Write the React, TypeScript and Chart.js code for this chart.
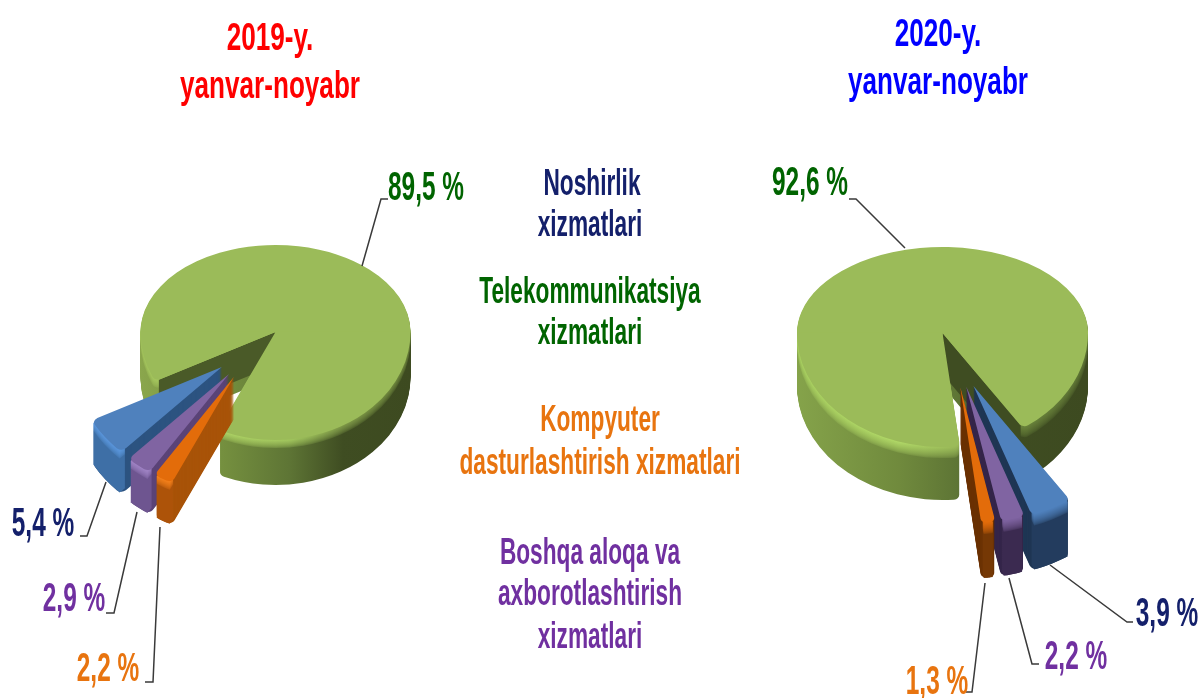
import React, { useEffect, useRef } from "react";
import { Chart, registerables } from "chart.js";

Chart.register(...registerables);

const NOSHIRLIK = "Noshirlik xizmatlari";
const TELEKOM = "Telekommunikatsiya xizmatlari";
const KOMPYUTER = "Kompyuter dasturlashtirish xizmatlari";
const BOSHQA = "Boshqa aloqa va axborotlashtirish xizmatlari";

const categories2019 = [NOSHIRLIK, TELEKOM, KOMPYUTER, BOSHQA];
const values2019 = [5.4, 89.5, 2.2, 2.9];
const categories2020 = [NOSHIRLIK, BOSHQA, KOMPYUTER, TELEKOM];
const values2020 = [3.9, 2.2, 1.3, 92.6];

const GREEN = "#9BBB59";
const BLUE = "#4F81BD";
const PURPLE = "#8064A2";
const ORANGE = "#E36C0A";
const colorOf: Record<string, string> = {
  [NOSHIRLIK]: BLUE,
  [TELEKOM]: GREEN,
  [KOMPYUTER]: ORANGE,
  [BOSHQA]: PURPLE,
};

type Stop = [number, string];
type Look = { side: Stop[]; rim: Stop[]; wall?: string; nudge?: [number, number] };
type PieCfg = {
  cats: string[];
  vals: number[];
  rotation: number;
  cx: number;
  cy: number;
  r: number;
  topR: number;
  botR: number;
  depth: number;
  bevel: number;
  explodeGap: number;
  explodeR: number;
  explodeDepth: number;
  wallEdge: "start" | "end";
  wall: string;
  looks: Record<string, Look>;
  leaders: number[][][];
};

const single = (side: string, rim: string, wall: string, nudge: [number, number]): Look => ({
  side: [[0, side], [1, side]],
  rim: [[0, rim], [1, rim]],
  wall,
  nudge,
});

const pie2019: PieCfg = {
  cats: categories2019,
  vals: values2019,
  rotation: 223.46,
  cx: 275.5,
  cy: 332,
  r: 135,
  topR: 87,
  botR: 108,
  depth: 45,
  bevel: 9,
  explodeGap: 67,
  explodeR: 146,
  explodeDepth: 42,
  wallEdge: "start",
  wall: "#4A5A28",
  looks: {
    [TELEKOM]: {
      side: [[0, "#8AA64C"], [0.3, "#75903F"], [0.55, "#5E7535"], [0.75, "#3F4D22"], [1, "#3D4A20"]],
      rim: [[0, "#A3C45C"], [0.3, "#AFD566"], [0.55, "#A6CB60"], [0.75, "#7F9A48"], [1, "#6A823A"]],
    },
    [NOSHIRLIK]: single("#3E6FA6", "#5A97DD", "#2C5380", [0, 3]),
    [BOSHQA]: single("#6E5590", "#A084C6", "#5A4377", [-5, 0]),
    [KOMPYUTER]: single("#AD5309", "#F5801A", "#A85308", [-9, -2]),
  },
  leaders: [
    [[362, 266], [381, 199], [388, 199]],
    [[106, 482], [87, 536], [80, 536]],
    [[137, 512], [114, 613], [106, 613]],
    [[160, 527], [153, 682], [145, 682]],
  ],
};

const pie2020: PieCfg = {
  cats: categories2020,
  vals: values2020,
  rotation: 146.5,
  cx: 942.5,
  cy: 333,
  r: 145.5,
  topR: 86,
  botR: 114,
  depth: 53,
  bevel: 12,
  explodeGap: 74,
  explodeR: 175,
  explodeDepth: 55,
  wallEdge: "end",
  wall: "#3F4D22",
  looks: {
    [TELEKOM]: {
      side: [[0, "#85A34A"], [0.35, "#708A3D"], [0.55, "#5E7535"], [0.68, "#3F4D22"], [1, "#3D4A20"]],
      rim: [[0, "#A9D060"], [0.35, "#B2DA68"], [0.55, "#9BBB59"], [0.68, "#6F8A3E"], [1, "#5E7535"]],
    },
    [NOSHIRLIK]: single("#233C5E", "#4F81BD", "#1F3654", [-2, 1]),
    [BOSHQA]: single("#3B2A50", "#8064A2", "#35264A", [4, -2]),
    [KOMPYUTER]: single("#753805", "#E36C0A", "#6B3204", [6, -3]),
  },
  leaders: [
    [[905, 248], [856, 199], [849, 199]],
    [[1050, 565], [1127, 622], [1133, 622]],
    [[1009, 578], [1032, 664], [1039, 664]],
    [[985, 583], [972, 692], [966, 692]],
  ],
};

const hex = (c: string) => [1, 3, 5].map((i) => parseInt(c.slice(i, i + 2), 16));
const mix = (a: string, b: string, t: number) => {
  const A = hex(a);
  const B = hex(b);
  return `rgb(${A.map((v, i) => Math.round(v + (B[i] - v) * t)).join(",")})`;
};

function drawArc(arc: any, ctx: CanvasRenderingContext2D, fill: any, outerR: number, band = false) {
  // The explode distance comes from the arc's own offset option, applied as a
  // pure translation so the slice keeps its true angular width.
  const gap = (arc.options.offset || 0) / 4;
  const mid = (arc.startAngle + arc.endAngle) / 2;
  const proxy = Object.create(arc);
  proxy.options = { ...arc.options, backgroundColor: fill, offset: 0 };
  proxy.outerRadius = outerR;
  if (band) {
    const inset = 2.5 / outerR;
    proxy.innerRadius = outerR - 8;
    proxy.startAngle = arc.startAngle + inset;
    proxy.endAngle = arc.endAngle - inset;
    proxy.circumference = arc.circumference - 2 * inset;
    proxy.options.borderRadius = 0;
  }
  ctx.save();
  ctx.translate(Math.cos(mid) * gap, Math.sin(mid) * gap);
  proxy.draw(ctx);
  ctx.restore();
}

const makePlugin = (cfg: PieCfg) => ({
  id: "extruded",
  beforeDatasetDraw(chart: any) {
    const ctx: CanvasRenderingContext2D = chart.ctx;
    const arcs = chart.getDatasetMeta(0).data;
    const W = chart.width;
    const H = chart.height;
    const { cx, cy, r, topR, botR } = cfg;
    const order = cfg.cats.map((_, i) => i).filter((i) => cfg.cats[i] === TELEKOM)
      .concat([NOSHIRLIK, BOSHQA, KOMPYUTER].map((n) => cfg.cats.indexOf(n)));

    const place = (arc: any, dy: number, s: number, nudge?: [number, number]) => {
      ctx.translate(cx + (nudge ? nudge[0] : 0), cy + dy + (nudge ? nudge[1] : 0));
      ctx.scale(1, s);
      ctx.translate(-arc.x, -arc.y);
    };

    const fillFor = (look: Look, t: number, x0: number, x1: number) => {
      const g = ctx.createLinearGradient(x0, 0, x1, 0);
      look.side.forEach((st, i) => {
        g.addColorStop(st[0], mix(st[1], look.rim[i][1], t));
      });
      return g;
    };

    order.forEach((idx) => {
      const arc = arcs[idx];
      const name = cfg.cats[idx];
      const look = cfg.looks[name];
      const isMain = name === TELEKOM;
      const depth = isMain ? cfg.depth : cfg.explodeDepth;
      const R = isMain ? r : cfg.explodeR;
      const x0 = arc.x - r;
      const x1 = arc.x + r;

      const paint = (fill: any, dy: number) => {
        if (isMain) {
          ctx.save();
          ctx.beginPath();
          ctx.rect(0, 0, W, cy + dy + 0.5);
          ctx.clip();
          place(arc, dy, topR / r);
          drawArc(arc, ctx, fill, R);
          ctx.restore();
          ctx.save();
          ctx.beginPath();
          ctx.rect(0, cy + dy - 0.5, W, H);
          ctx.clip();
          place(arc, dy, botR / r);
          drawArc(arc, ctx, fill, R);
          ctx.restore();
        } else {
          ctx.save();
          place(arc, dy, botR / r, look.nudge);
          drawArc(arc, ctx, fill, R);
          ctx.restore();
        }
      };

      const paintBand = (fill: any, dy: number) => {
        ctx.save();
        place(arc, dy, botR / r, look.nudge);
        drawArc(arc, ctx, fill, R, true);
        ctx.restore();
      };

      const layerFill = (dy: number) => {
        const t = dy >= cfg.bevel ? 0 : Math.pow(1 - dy / cfg.bevel, 0.6);
        return fillFor(look, t, x0, x1);
      };

      if (!isMain) {
        for (let dy = depth; dy >= 1; dy--) paint(look.wall, dy);
      }
      for (let dy = depth; dy >= 1; dy--) {
        if (isMain) paint(layerFill(dy), dy);
        else paintBand(layerFill(dy), dy);
      }

      if (isMain) {
        const a = cfg.wallEdge === "start" ? arc.startAngle : arc.endAngle;
        const ex = cx + Math.cos(a) * (r - 4);
        const ey = cy + Math.sin(a) * (r - 4) * (botR / r);
        ctx.save();
        ctx.fillStyle = cfg.wall;
        ctx.beginPath();
        ctx.moveTo(cx, cy);
        ctx.lineTo(ex, ey);
        ctx.lineTo(ex, ey + depth - 12);
        ctx.lineTo(cx, cy + depth - 12);
        ctx.closePath();
        ctx.fill();
        ctx.restore();
      }

      paint(colorOf[name], 0);
    });

    ctx.save();
    ctx.strokeStyle = "#3A3A3A";
    ctx.lineWidth = 1.5;
    cfg.leaders.forEach((pts) => {
      ctx.beginPath();
      pts.forEach((p, i) => (i ? ctx.lineTo(p[0], p[1]) : ctx.moveTo(p[0], p[1])));
      ctx.stroke();
    });
    ctx.restore();
    return false;
  },
});

function Pie({ cfg }: { cfg: PieCfg }) {
  const ref = useRef<HTMLCanvasElement | null>(null);
  useEffect(() => {
    const chart = new Chart(ref.current as HTMLCanvasElement, {
      type: "pie",
      data: {
        labels: cfg.cats,
        datasets: [
          {
            data: cfg.vals,
            backgroundColor: cfg.cats.map((c) => colorOf[c]),
            borderWidth: 0,
            offset: cfg.cats.map((c) => (c === TELEKOM ? 0 : cfg.explodeGap * 4)),
            borderRadius: cfg.cats.map(() => ({ outerStart: 6, outerEnd: 6, innerStart: 0, innerEnd: 0 })),
          },
        ],
      },
      options: {
        animation: false,
        responsive: false,
        events: [],
        rotation: cfg.rotation,
        radius: cfg.r,
        plugins: { legend: { display: false }, tooltip: { enabled: false }, title: { display: false } },
      } as any,
      plugins: [makePlugin(cfg) as any],
    });
    return () => chart.destroy();
  }, [cfg]);
  return (
    <canvas
      ref={ref}
      width={1202}
      height={698}
      style={{ position: "absolute", left: 0, top: 0, width: 1202, height: 698 }}
    />
  );
}

type Txt = { t: string; x: number; y: number; c: string };
const RED = "#FF0000";
const INK = "#0000FF";
const NAVY = "#14206B";
const DGREEN = "#006400";
const TORANGE = "#E8740F";
const TPURPLE = "#7030A0";

const titles: Txt[] = [
  { t: "2019-y.", x: 270, y: 36, c: RED },
  { t: "yanvar-noyabr", x: 270, y: 84, c: RED },
  { t: "2020-y.", x: 938, y: 32, c: INK },
  { t: "yanvar-noyabr", x: 938, y: 80, c: INK },
];
const legendTexts: Txt[] = [
  { t: "Noshirlik", x: 592, y: 183, c: NAVY },
  { t: "xizmatlari", x: 590, y: 224, c: NAVY },
  { t: "Telekommunikatsiya", x: 590, y: 291, c: DGREEN },
  { t: "xizmatlari", x: 590, y: 332, c: DGREEN },
  { t: "Kompyuter", x: 600, y: 419, c: TORANGE },
  { t: "dasturlashtirish xizmatlari", x: 600, y: 462, c: TORANGE },
  { t: "Boshqa aloqa va", x: 590, y: 552, c: TPURPLE },
  { t: "axborotlashtirish", x: 590, y: 593, c: TPURPLE },
  { t: "xizmatlari", x: 590, y: 636, c: TPURPLE },
];
const valueTexts: Txt[] = [
  { t: "89,5 %", x: 426, y: 186, c: DGREEN },
  { t: "5,4 %", x: 43, y: 522, c: NAVY },
  { t: "2,9 %", x: 74, y: 597, c: TPURPLE },
  { t: "2,2 %", x: 108, y: 667, c: TORANGE },
  { t: "92,6 %", x: 810, y: 181, c: DGREEN },
  { t: "3,9 %", x: 1167, y: 612, c: NAVY },
  { t: "2,2 %", x: 1076, y: 655, c: TPURPLE },
  { t: "1,3 %", x: 937, y: 680, c: TORANGE },
];

function Label({ d, size, k }: { d: Txt; size: number; k: number }) {
  return (
    <div
      style={{
        position: "absolute",
        left: d.x,
        top: d.y,
        color: d.c,
        font: `700 ${size}px "Liberation Sans", Arial, sans-serif`,
        lineHeight: 1,
        whiteSpace: "nowrap",
        transform: `translate(-50%, -50%) scaleX(${k})`,
      }}
    >
      {d.t}
    </div>
  );
}

export default function App() {
  return (
    <div style={{ position: "fixed", left: 0, top: 0, width: 1202, height: 698, background: "#fff", overflow: "hidden" }}>
      <Pie cfg={pie2019} />
      <Pie cfg={pie2020} />
      {titles.map((d, i) => <Label key={"t" + i} d={d} size={39} k={0.67} />)}
      {legendTexts.map((d, i) => <Label key={"l" + i} d={d} size={36} k={0.63} />)}
      {valueTexts.map((d, i) => <Label key={"v" + i} d={d} size={40} k={0.61} />)}
    </div>
  );
}
